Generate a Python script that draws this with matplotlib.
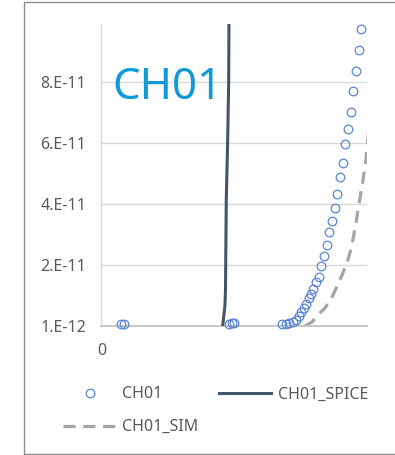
import matplotlib
matplotlib.use("Agg")
import matplotlib.pyplot as plt
from matplotlib.lines import Line2D
from matplotlib.patches import Rectangle

plt.rcParams['font.family'] = ['Noto Sans', 'DejaVu Sans']

# Measured CH01 points (x in normalized bias, y in A)
ch01_x = [0.073, 0.085, 0.480, 0.492, 0.499,
          0.680, 0.695, 0.707, 0.720, 0.733, 0.744, 0.753, 0.763, 0.770, 0.782,
          0.789, 0.798, 0.807, 0.819, 0.827, 0.838, 0.849, 0.858, 0.868, 0.879,
          0.887, 0.898, 0.910, 0.917, 0.928, 0.940, 0.947, 0.959, 0.970, 0.977]
ch01_y = [0.166, 0.166, 0.166, 0.198, 0.198,
          0.166, 0.166, 0.198, 0.231, 0.297, 0.428, 0.559, 0.690, 0.821, 1.018,
          1.149, 1.313, 1.543, 1.707, 2.067, 2.395, 2.756, 3.182, 3.543, 3.969,
          4.428, 4.985, 5.444, 6.080, 6.560, 7.120, 7.800, 8.460, 9.150, 9.840]

# SPICE model curve
spice_x = [0.4565, 0.461, 0.465, 0.467, 0.470, 0.475, 0.479, 0.480, 0.481]
spice_y = [0.10, 0.46, 0.79, 1.28, 4.23, 6.10, 8.10, 9.97, 10.5]

# Simulation curve
sim_x = [0.766, 0.793, 0.823, 0.842, 0.867, 0.898, 0.925, 0.942, 0.959,
         0.971, 0.984, 0.996, 1.004, 1.020]
sim_y = [0.10, 0.23, 0.53, 0.69, 1.02, 1.61, 2.17, 2.69, 3.51,
         4.17, 4.82, 5.54, 6.30, 8.00]

scale = 1e-11
y_ticks = [1e-12, 2.1e-11, 4.1e-11, 6.1e-11, 8.1e-11]
y_tick_labels = ['1.E-12', '2.E-11', '4.E-11', '6.E-11', '8.E-11']
x_ticks = [0]
x_tick_labels = ['0']

W, H = 395, 455
fig = plt.figure(figsize=(W / 100, H / 100), dpi=100)
fig.patch.set_facecolor('white')

# chart area border
fig.patches.append(Rectangle((23.5 / W, 1.5 / H), (W + 10 - 23.5) / W, (H - 3) / H,
                             transform=fig.transFigure, fill=False,
                             edgecolor='#8C8C8C', linewidth=1.0))

ax = fig.add_axes([101.5 / W, (H - 326) / H, (367 - 101.5) / W, 302 / H])
ax.set_xlim(0, 1)
ax.set_ylim(1e-12, 1e-10)

ax.plot(sim_x, [v * scale for v in sim_y], color='#A5A5A5',
        linewidth=2.3, linestyle=(0, (3.8, 2.4)), zorder=2)
ax.plot(spice_x, [v * scale for v in spice_y], color='#44546A',
        linewidth=2.2, zorder=3)
ax.plot(ch01_x, [v * scale for v in ch01_y], linestyle='none', marker='o',
        markersize=6.2, markerfacecolor='none', markeredgecolor='#5B84D6',
        markeredgewidth=0.9, zorder=4, clip_on=False)

ax.set_yticks(y_ticks)
ax.set_yticklabels(y_tick_labels)
ax.set_xticks(x_ticks)
ax.set_xticklabels(x_tick_labels)
ax.tick_params(axis='both', length=0, labelsize=11.5, labelcolor='#595959')
ax.tick_params(axis='y', pad=11)
ax.tick_params(axis='x', pad=12)
ax.grid(axis='y', color='#D9D9D9', linewidth=1.0)
ax.set_axisbelow(True)
for side in ('top', 'right'):
    ax.spines[side].set_visible(False)
ax.spines['left'].set_color('#D9D9D9')
ax.spines['left'].set_linewidth(1.0)
ax.spines['bottom'].set_color('#BFBFBF')
ax.spines['bottom'].set_linewidth(1.2)

fig.text(112 / W, (H - 99) / H, 'CH01', fontsize=31.5,
         color='#0E9AD7', va='baseline', ha='left')

handles = [
    Line2D([], [], linestyle='none', marker='o', markersize=6.2,
           markerfacecolor='none', markeredgecolor='#5B84D6', markeredgewidth=0.9),
    Line2D([], [], color='#A5A5A5', linewidth=2.3, linestyle=(0, (3.8, 2.4))),
    Line2D([], [], color='#44546A', linewidth=2.2),
]
labels = ['CH01', 'CH01_SIM', 'CH01_SPICE']
fig.legend(handles, labels, ncol=2, loc='upper left',
           bbox_to_anchor=(49 / W, 1 - 372 / H), frameon=False,
           fontsize=11.5, labelcolor='#595959', handlelength=3.3,
           handletextpad=0.4, columnspacing=1.25, labelspacing=1.05)

fig.savefig('out.png', dpi=100, facecolor='white')
